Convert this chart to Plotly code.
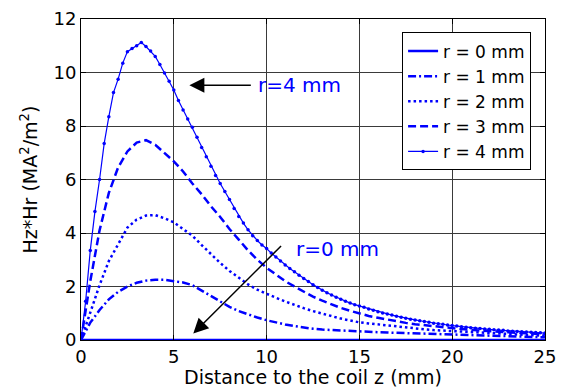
import plotly.graph_objects as go

# distance grids (mm)
z_half = [0, 0.5, 1, 1.5, 2, 2.5, 3, 3.5, 4, 4.5, 5, 5.5, 6, 6.5, 7, 7.5, 8, 8.5, 9, 9.5,
          10, 10.5, 11, 11.5, 12, 12.5, 13, 13.5, 14, 14.5, 15, 15.5, 16, 16.5, 17, 17.5,
          18, 18.5, 19, 19.5, 20, 20.5, 21, 21.5, 22, 22.5, 23, 23.5, 24, 24.5, 25]
z_quarter = [0, 0.25, 0.5, 0.75, 1, 1.25, 1.5, 1.75, 2, 2.25, 2.5, 2.75, 3, 3.25, 3.5, 3.75,
             4, 4.25, 4.5, 4.75, 5, 5.25, 5.5, 5.75, 6, 6.25, 6.5, 6.75, 7, 7.25, 7.5, 7.75,
             8, 8.25, 8.5, 8.75, 9, 9.25, 9.5, 9.75, 10, 10.25, 10.5, 10.75, 11, 11.25, 11.5, 11.75,
             12, 12.25, 12.5, 12.75, 13, 13.25, 13.5, 13.75, 14, 14.25, 14.5, 14.75, 15, 15.25,
             15.5, 15.75, 16, 16.25, 16.5, 16.75, 17, 17.25, 17.5, 17.75, 18, 18.25, 18.5, 18.75,
             19, 19.25, 19.5, 19.75, 20, 20.25, 20.5, 20.75, 21, 21.25, 21.5, 21.75, 22, 22.25,
             22.5, 22.75, 23, 23.25, 23.5, 23.75, 24, 24.25, 24.5, 24.75, 25]

r0 = [0, 0, 0, 0, 0, 0, 0, 0, 0, 0, 0, 0, 0, 0, 0, 0, 0, 0, 0, 0, 0, 0, 0, 0, 0, 0,
      0, 0, 0, 0, 0, 0, 0, 0, 0, 0, 0, 0, 0, 0, 0, 0, 0, 0, 0, 0, 0, 0, 0, 0, 0]
r1 = [0, 0.65, 1.12, 1.52, 1.8, 2.0, 2.14, 2.22, 2.25, 2.25, 2.2, 2.15, 2.05, 1.85, 1.62,
      1.42, 1.24, 1.08, 0.95, 0.84, 0.74, 0.65, 0.58, 0.52, 0.46, 0.42, 0.39, 0.37, 0.35,
      0.34, 0.32, 0.31, 0.29, 0.28, 0.27, 0.26, 0.25, 0.245, 0.24, 0.23, 0.22, 0.21, 0.2,
      0.19, 0.17, 0.16, 0.15, 0.14, 0.12, 0.11, 0.1]
r2 = [0, 1.05, 2.05, 2.95, 3.6, 4.2, 4.5, 4.65, 4.67, 4.55, 4.4, 4.15, 3.9, 3.55, 3.2,
      2.88, 2.58, 2.32, 2.08, 1.88, 1.72, 1.58, 1.44, 1.31, 1.19, 1.08, 0.98, 0.88, 0.8,
      0.73, 0.66, 0.62, 0.58, 0.54, 0.5, 0.46, 0.43, 0.4, 0.37, 0.35, 0.33, 0.31, 0.29,
      0.27, 0.25, 0.24, 0.22, 0.21, 0.19, 0.18, 0.16]
r3 = [0, 2.2, 4.1, 5.5, 6.45, 7.05, 7.38, 7.47, 7.3, 7.0, 6.68, 6.3, 5.85, 5.45, 5.0,
      4.6, 4.15, 3.75, 3.35, 3.0, 2.7, 2.45, 2.2, 2.0, 1.8, 1.62, 1.47, 1.33, 1.2, 1.09,
      0.99, 0.9, 0.83, 0.76, 0.7, 0.64, 0.59, 0.55, 0.51, 0.47, 0.44, 0.41, 0.38, 0.35,
      0.33, 0.31, 0.29, 0.27, 0.25, 0.23, 0.21]
r4 = [0, 1.45, 3.35, 4.8, 6.0, 7.35, 8.35, 9.25, 9.75, 10.35, 10.78, 10.9, 11.0, 11.12,
      10.97, 10.8, 10.6, 10.3, 9.98, 9.67, 9.35, 8.95, 8.6, 8.26, 7.95, 7.58, 7.2, 6.85,
      6.5, 6.15, 5.85, 5.55, 5.25, 4.92, 4.62, 4.37, 4.12, 3.9, 3.72, 3.55, 3.42, 3.25,
      3.1, 2.95, 2.8, 2.67, 2.55, 2.42, 2.3, 2.19, 2.07, 1.96, 1.86, 1.77, 1.68, 1.6,
      1.52, 1.45, 1.38, 1.32, 1.27, 1.22, 1.16, 1.11, 1.06, 1.01, 0.97, 0.93, 0.89, 0.85,
      0.81, 0.78, 0.75, 0.72, 0.69, 0.66, 0.63, 0.61, 0.59, 0.56, 0.54, 0.52, 0.5, 0.48,
      0.46, 0.44, 0.43, 0.41, 0.4, 0.38, 0.37, 0.36, 0.34, 0.33, 0.32, 0.31, 0.3, 0.29,
      0.28, 0.27, 0.26]

names = ["r = 0 mm", "r = 1 mm", "r = 2 mm", "r = 3 mm", "r = 4 mm"]

BLUE = "#0000FF"
FONT = "DejaVu Sans"

fig = go.Figure()
fig.add_trace(go.Scatter(x=z_half, y=r0, mode="lines", name=names[0],
                         line=dict(color=BLUE, width=2.5)))
fig.add_trace(go.Scatter(x=z_half, y=r1, mode="lines", name=names[1],
                         line=dict(color=BLUE, width=2.5, dash="8px,3px,2px,3px")))
fig.add_trace(go.Scatter(x=z_half, y=r2, mode="lines", name=names[2],
                         line=dict(color=BLUE, width=2.5, dash="2.5px,3px")))
fig.add_trace(go.Scatter(x=z_half, y=r3, mode="lines", name=names[3],
                         line=dict(color=BLUE, width=2.5, dash="8px,4px")))
fig.add_trace(go.Scatter(x=z_quarter, y=r4, mode="lines+markers", name=names[4],
                         line=dict(color=BLUE, width=1.2),
                         marker=dict(color=BLUE, size=3.5)))

axis_common = dict(
    showline=True, linecolor="black", linewidth=1, mirror="ticks",
    ticks="inside", ticklen=5, tickcolor="black", automargin=False,
    ticklabeloverflow="allow",
    showgrid=True, gridcolor="#3a3a3a", gridwidth=1, zeroline=False,
    tickfont=dict(family=FONT, size=18, color="black"),
)

# the page body adds an 8px offset; the figure size/margins compensate for it
fig.update_layout(
    width=557, height=380,
    margin=dict(l=73, r=20, t=11, b=48),
    paper_bgcolor="white", plot_bgcolor="white",
    font=dict(family=FONT, size=20, color="black"),
    xaxis=dict(range=[0, 25], dtick=5,
               title=dict(text="Distance to the coil z (mm)", standoff=0,
                          font=dict(family=FONT, size=19, color="black")),
               **axis_common),
    yaxis=dict(range=[0, 12], dtick=2,
               title=dict(text="Hz*Hr (MA<sup>2</sup>/m<sup>2</sup>)", standoff=10,
                          font=dict(family=FONT, size=19, color="black")),
               **axis_common),
    legend=dict(x=0.97, y=0.958, xanchor="right", yanchor="top",
                bgcolor="white", bordercolor="black", borderwidth=1,
                font=dict(family=FONT, size=17, color="black"),
                tracegroupgap=0, itemwidth=30),
    showlegend=True,
)

# arrow and label for r=4 mm
fig.add_annotation(x=5.84, y=9.52, ax=9.23, ay=9.52, xref="x", yref="y",
                   axref="x", ayref="y", text="", showarrow=True,
                   arrowhead=2, arrowsize=2, arrowwidth=1.5, arrowcolor="black")
fig.add_annotation(x=9.45, y=9.52, xref="x", yref="y", text="r=4 mm",
                   showarrow=False, xanchor="left", yanchor="middle",
                   font=dict(family=FONT, size=20, color=BLUE))
# arrow and label for r=0 mm
fig.add_annotation(x=6.05, y=0.24, ax=10.86, ay=3.57, xref="x", yref="y",
                   axref="x", ayref="y", text="", showarrow=True,
                   arrowhead=2, arrowsize=2, arrowwidth=1.5, arrowcolor="black")
fig.add_annotation(x=11.5, y=3.42, xref="x", yref="y", text="r=0 mm",
                   showarrow=False, xanchor="left", yanchor="middle",
                   font=dict(family=FONT, size=20, color=BLUE))

fig.write_html("out.html")
